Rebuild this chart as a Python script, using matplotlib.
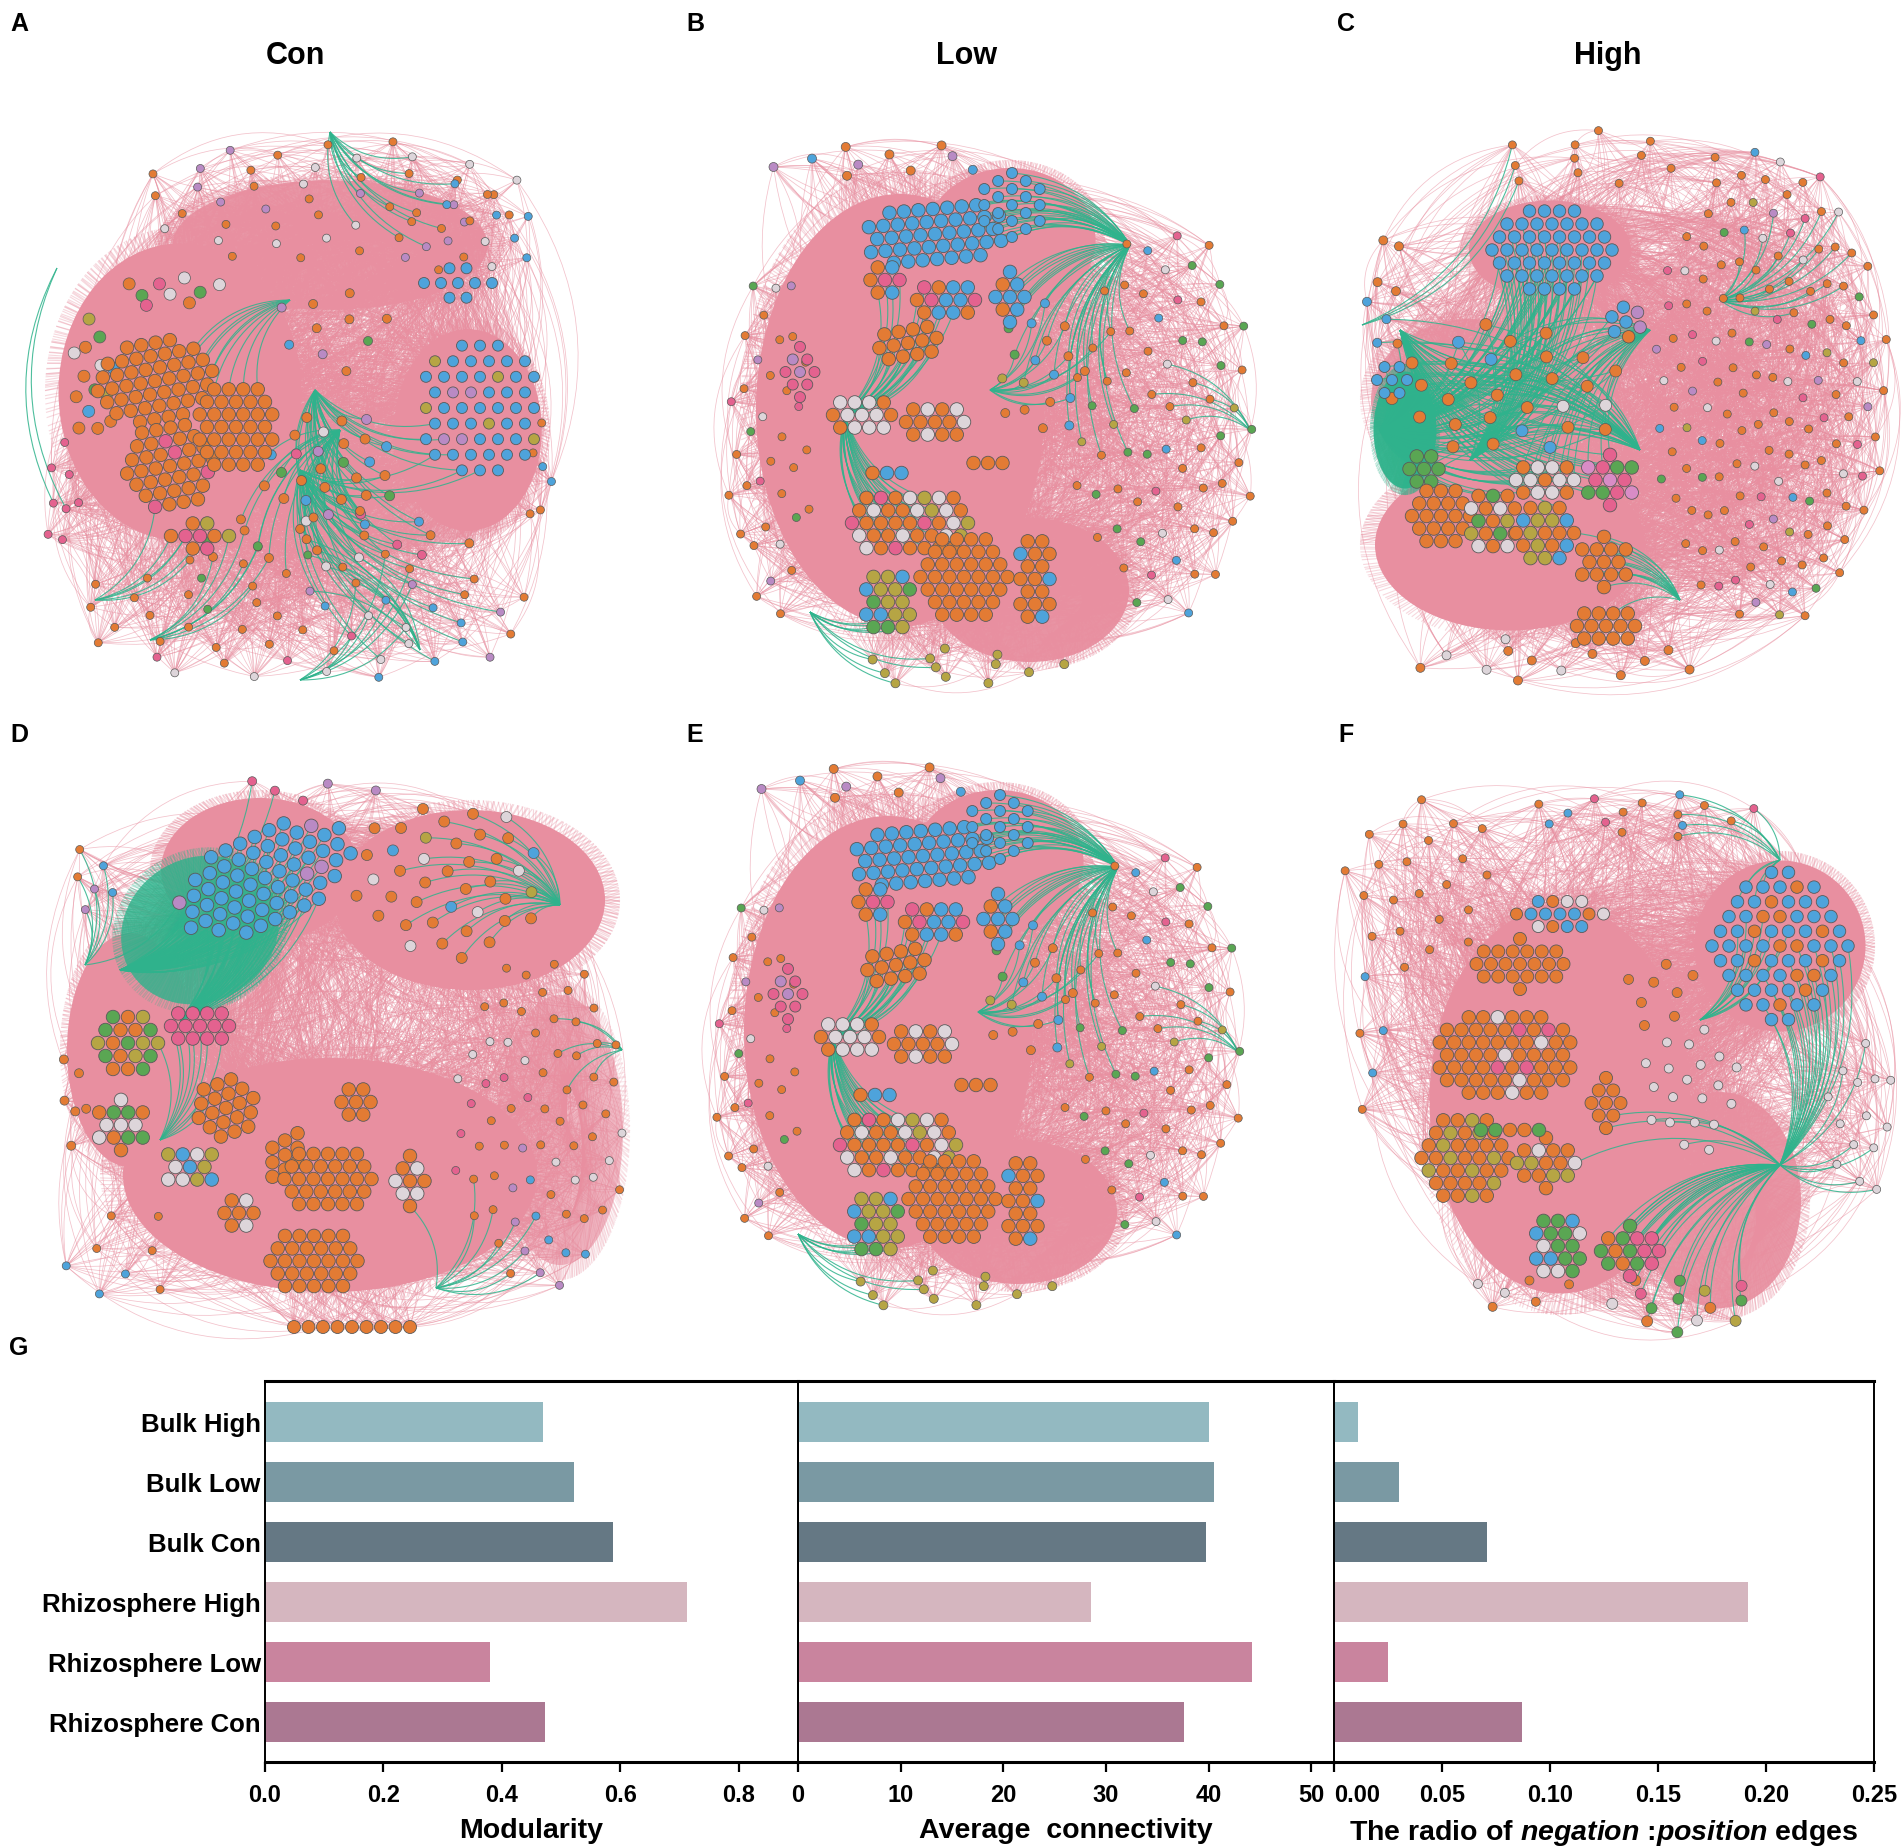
import numpy as np
import matplotlib
matplotlib.use("Agg")
import matplotlib.pyplot as plt
from matplotlib.collections import LineCollection
from matplotlib.patches import Ellipse

plt.rcParams['font.family'] = ['Liberation Sans', 'DejaVu Sans']
plt.rcParams['font.weight'] = 'bold'
plt.rcParams['mathtext.fontset'] = 'custom'
plt.rcParams['mathtext.rm'] = 'Liberation Sans:bold'
plt.rcParams['mathtext.it'] = 'Liberation Sans:italic:bold'

# ---------------- panel G data ----------------
groups = ['Bulk High', 'Bulk Low', 'Bulk Con',
          'Rhizosphere High', 'Rhizosphere Low', 'Rhizosphere Con']
modularity = [0.469, 0.521, 0.588, 0.712, 0.380, 0.472]
avg_connectivity = [40.0, 40.5, 39.7, 28.5, 44.2, 37.6]
neg_pos_ratio = [0.011, 0.030, 0.071, 0.1915, 0.025, 0.087]
bar_colors = ['#93b9c1', '#7a99a3', '#657884', '#d5b6bf', '#c9849e', '#ab7892']

# ---------------- network panels (pixel layout of modules) ----------------
node_colors = {'o': '#e37b34', 'b': '#4ea3db', 'g': '#5aa653', 'w': '#ddd5da',
               'p': '#e4628f', 'l': '#b98ac4', 'm': '#d98cc6', 'y': '#b6a544'}
pink = '#e88fa0'
green = '#2fb38c'

# fills: (cx, cy, rx, ry, angle, alpha)
# modules: (cx, cy, rx, ry, angle, spacing, size, colours)
# scattered: (cx, cy, rx, ry, count, size, colours)
# green bundles: (hub x, hub y, target x, target y, radius, count)
a_fills = [(180, 392, 135, 165, 0, 1.0), (468, 430, 82, 112, 0, 1.0),
           (330, 245, 175, 72, 0, 0.9), (390, 505, 120, 48, 0, 0.55)]
a_green_fills = []
a_modules = [(155, 381, 58, 44, -10, 14.5, 13.5, 'o'),
             (170, 466, 52, 42, -10, 14.5, 13.5, 'oooooooowooopoooogooy'),
             (236, 427, 40, 50, 0, 14.5, 13.5, 'ooooooooybooo'),
             (200, 536, 30, 14, 0, 14.5, 13.5, 'oyopy'),
             (480, 408, 60, 72, 0, 18, 11, 'bbbbbbobbbbwbbbbbly'),
             (458, 283, 36, 18, 0, 17, 11, 'bbbbbbo')]
a_scattered = [(92, 380, 25, 65, 14, 12, 'ogbowyo'),
               (172, 290, 55, 18, 9, 12, 'wwgogop'),
               (330, 200, 200, 65, 45, 8, 'oooboolowbooogoowoob'),
               (470, 230, 70, 50, 15, 8, 'bobolowb'),
               (330, 330, 60, 50, 10, 9, 'oobgol'),
               (330, 470, 70, 60, 28, 10, 'oooblpgowobo'),
               (300, 615, 240, 70, 55, 8, 'oooopwboogooowbl'),
               (330, 540, 150, 30, 20, 9, 'oogowpob'),
               (62, 500, 20, 60, 8, 8, 'opbow'),
               (540, 480, 15, 60, 6, 8, 'obo')]
a_green = [(300, 470, 420, 560, 150, 40), (315, 390, 380, 480, 120, 35),
           (330, 132, 400, 200, 80, 15), (150, 640, 250, 560, 100, 8),
           (420, 650, 330, 560, 100, 8), (300, 680, 380, 600, 80, 8),
           (57, 268, 62, 500, 30, 2), (290, 300, 230, 350, 60, 10),
           (340, 430, 300, 520, 90, 30), (95, 600, 160, 540, 60, 6)]

b_fills = [(900, 410, 160, 240, 0, 1.0), (1010, 240, 95, 80, 0, 1.0),
           (1030, 590, 110, 80, 0, 0.95)]
b_green_fills = []
b_modules = [(935, 234, 72, 32, -5, 14.5, 13.5, 'bbbbbbbbwbbbbbbblbbbb'),
             (1012, 205, 38, 38, 30, 16, 11, 'bbbbbbobbb'),
             (885, 280, 22, 20, 0, 14.5, 13.5, 'obopb'),
             (946, 300, 33, 22, 0, 14.5, 13.5, 'pobbobbp'),
             (1010, 297, 18, 32, 0, 14.5, 13.5, 'bbobo'),
             (908, 343, 42, 24, -10, 14.5, 13.5, 'oooooooow'),
             (800, 372, 22, 32, 0, 14.5, 11, 'plpwlppo'),
             (862, 415, 33, 20, 0, 14.5, 13.5, 'wogowbloow'),
             (935, 422, 40, 17, 0, 14.5, 13.5, 'oooowoo'),
             (988, 463, 28, 12, 0, 14.5, 13.5, 'o'),
             (887, 473, 24, 12, 0, 14.5, 13.5, 'obp'),
             (910, 523, 64, 36, 0, 14.5, 13.5, 'oowopwoooyopwoogoow'),
             (964, 577, 50, 50, 0, 14.5, 13.5, 'oooooooooyooooooooooow'),
             (1035, 579, 20, 48, 0, 14.5, 13.5, 'oooboog'),
             (888, 602, 28, 32, 0, 14.5, 13.5, 'ypbwyogp')]
b_scattered = [(770, 440, 45, 180, 35, 8, 'oooopowgoolo'),
               (1165, 420, 95, 200, 70, 8, 'oogogoboowgopoogy'),
               (880, 162, 120, 20, 10, 9, 'bloo'),
               (960, 668, 120, 20, 12, 9, 'oyopw'),
               (1040, 370, 50, 70, 18, 9, 'obgyoobo')]
b_green = [(1130, 245, 1010, 210, 70, 30), (1130, 245, 1060, 330, 80, 25),
           (1130, 245, 1100, 420, 60, 10), (845, 415, 900, 340, 70, 25),
           (845, 415, 900, 520, 70, 25), (990, 390, 1060, 350, 80, 15),
           (810, 612, 900, 650, 60, 10), (1250, 430, 1180, 400, 60, 6)]

c_fills = [(1550, 250, 90, 55, 0, 1.0), (1510, 545, 150, 95, 0, 1.0),
           (1470, 400, 110, 90, 0, 0.8)]
c_green_fills = [(1405, 430, 35, 65, 0, 0.95)]
c_modules = [(1552, 250, 70, 42, 0, 15, 12.5, 'bbbbbbbbbbbbobbblbbbbb'),
             (1626, 322, 26, 22, 20, 15, 12.5, 'bbbblbob'),
             (1392, 380, 22, 14, 0, 15, 11, 'bbb'),
             (1424, 469, 26, 20, 0, 14.5, 13.5, 'gggggoggg'),
             (1610, 480, 25, 28, 0, 14.5, 13.5, 'ppwpmyppgp'),
             (1441, 516, 30, 36, 0, 14.5, 13.5, 'o'),
             (1493, 521, 24, 38, 0, 14.5, 13.5, 'oooogoowoyo'),
             (1545, 480, 32, 22, 0, 14.5, 13.5, 'oooywo'),
             (1545, 533, 32, 33, 0, 14.5, 13.5, 'ooyoyobooyoo'),
             (1604, 562, 27, 28, 0, 14.5, 13.5, 'o'),
             (1606, 626, 36, 16, 0, 14.5, 13.5, 'o')]
c_scattered = [(1510, 390, 120, 70, 30, 12, 'oooooboooowob'),
               (1770, 390, 120, 240, 150, 8, 'ooooobolopwoogoywop'),
               (1600, 160, 130, 30, 12, 8, 'oowob'),
               (1385, 300, 20, 80, 8, 9, 'obo'),
               (1560, 660, 150, 25, 14, 9, 'oow')]
c_green = [(1380, 430, 1500, 380, 120, 60), (1380, 430, 1560, 300, 90, 30),
           (1650, 330, 1560, 400, 100, 30), (1720, 300, 1800, 260, 90, 20),
           (1680, 600, 1620, 560, 60, 15), (1362, 325, 1500, 150, 60, 3),
           (1400, 330, 1560, 420, 120, 40), (1470, 460, 1520, 300, 100, 40),
           (1640, 450, 1460, 380, 110, 35)]

d_fills = [(470, 900, 150, 100, 0, 1.0), (330, 1175, 230, 130, 0, 1.0),
           (130, 1050, 70, 130, 0, 1.0), (560, 1130, 70, 150, 0, 0.6),
           (260, 870, 110, 80, 0, 1.0)]
d_green_fills = [(200, 930, 90, 80, -30, 0.8)]
d_modules = [(265, 878, 95, 48, -25, 16, 13.5, 'bbbbbbbbbbbbbblbbbbbbbbgbbbbbobb'),
             (128, 1043, 36, 38, 0, 15, 13.5, 'ggggoggbggyg'),
             (200, 1026, 35, 21, 0, 14.5, 13.5, 'ppyppwopo'),
             (121, 1125, 25, 28, 0, 14.5, 13.5, 'wpgpoywo'),
             (226, 1108, 38, 34, -20, 14.5, 13.5, 'ooooooopoboo'),
             (190, 1167, 28, 24, 0, 14.5, 13.5, 'ywygbyowo'),
             (285, 1155, 18, 40, 30, 14.5, 13.5, 'ooopoo'),
             (328, 1179, 48, 36, 0, 14.5, 13.5, 'o'),
             (239, 1213, 21, 25, 0, 14.5, 13.5, 'ooyow'),
             (314, 1261, 50, 35, 0, 14.5, 13.5, 'oooooooyoooooo'),
             (356, 1102, 23, 21, 0, 14.5, 13.5, 'oow'),
             (410, 1181, 20, 34, 0, 14.5, 13.5, 'oowo'),
             (352, 1327, 72, 8, 0, 14.5, 13, 'o')]
d_scattered = [(450, 880, 100, 80, 40, 11, 'oooowoobooyowo'),
               (540, 1120, 90, 170, 70, 8, 'ooooowobloopw'),
               (72, 1100, 15, 60, 6, 9, 'o'),
               (300, 790, 80, 15, 5, 9, 'lpp'),
               (90, 880, 25, 40, 6, 8, 'olb'),
               (120, 1260, 60, 60, 8, 8, 'obo')]
d_green = [(120, 970, 250, 860, 100, 60), (180, 1020, 260, 900, 90, 40),
           (560, 905, 470, 880, 90, 30), (85, 965, 110, 880, 50, 8),
           (436, 1288, 470, 1250, 60, 10), (622, 1050, 580, 1050, 60, 8),
           (160, 1140, 190, 1060, 60, 10)]

f_fills = [(1560, 1100, 145, 215, 0, 1.0), (1780, 946, 95, 95, 0, 1.0),
           (1720, 1200, 90, 120, 0, 0.9)]
f_green_fills = []
f_modules = [(1780, 946, 72, 78, 0, 17, 12.5, 'bbbbbbobbbbbbbbob'),
             (1505, 1055, 70, 46, 0, 14.5, 13.5, 'oooooooooowoooooooopoooooob'),
             (1465, 1158, 48, 44, 0, 14.5, 13.5, 'oooooyooooyoooy'),
             (1546, 1163, 29, 28, 0, 14.5, 13.5, 'ooowoyo'),
             (1510, 1130, 30, 12, 0, 14.5, 13.5, 'gwow'),
             (1520, 964, 53, 26, 0, 14.5, 13, 'oopoooppoo'),
             (1560, 914, 50, 16, 0, 14.5, 12, 'blwoopbo'),
             (1606, 1103, 20, 26, 0, 14.5, 13, 'oywpoo'),
             (1558, 1246, 28, 33, 0, 14.5, 13.5, 'gobpgywo'),
             (1630, 1251, 29, 28, 0, 14.5, 13.5, 'gogpo')]
f_scattered = [(1685, 1304, 84, 30, 14, 11, 'ogpwyg'),
               (1660, 990, 40, 40, 8, 10, 'lowpo'),
               (1420, 880, 80, 90, 22, 8, 'o'),
               (1640, 815, 120, 25, 15, 8, 'oobbop'),
               (1860, 1120, 35, 90, 14, 8, 'owbop'),
               (1370, 1050, 20, 80, 5, 8, 'ob'),
               (1690, 1090, 50, 70, 20, 9, 'owoop'),
               (1520, 1290, 60, 20, 6, 9, 'owo')]
f_green = [(1780, 1165, 1830, 1010, 60, 25), (1780, 1165, 1700, 1270, 80, 25),
           (1780, 1165, 1640, 1180, 70, 12), (1780, 1165, 1860, 1160, 40, 5),
           (1780, 860, 1720, 830, 80, 12), (1700, 1020, 1760, 940, 70, 12)]

panel_titles = ['Con', 'Low', 'High']


def module_nodes(cx, cy, rx, ry, ang, sp, size, code):
    t = np.deg2rad(ang)
    pts = []
    nr = int(max(rx, ry) / (sp * 0.866)) + 2
    nc = int(max(rx, ry) / sp) + 2
    for r in range(-nr, nr + 1):
        for c in range(-nc, nc + 1):
            x = c * sp + (sp / 2 if r % 2 else 0)
            y = r * sp * 0.866
            if (x / rx) ** 2 + (y / ry) ** 2 <= 1.0:
                pts.append((cx + x * np.cos(t) - y * np.sin(t),
                            cy + x * np.sin(t) + y * np.cos(t)))
    if not pts:
        pts = [(cx, cy)]
    cols = [node_colors[code[(k * k + 3 * k) % len(code)]] for k in range(len(pts))]
    return pts, cols, [size] * len(pts)


def scattered_nodes(cx, cy, rx, ry, n, size, code):
    k = np.arange(n)
    r = np.sqrt((k + 0.5) / n)
    th = k * 2.39996 + cx * 0.01
    pts = list(zip(cx + rx * r * np.cos(th), cy + ry * r * np.sin(th)))
    cols = [node_colors[code[(i * 5 + 1) % len(code)]] for i in range(n)]
    return pts, cols, [size] * n


def bezier(p0, p1, bend):
    t = np.linspace(0, 1, 18)[None, :, None]
    d = p1 - p0
    c = (p0 + p1) / 2 + bend * np.stack([-d[:, 1], d[:, 0]], axis=1)
    return ((1 - t) ** 2 * p0[:, None, :] + 2 * (1 - t) * t * c[:, None, :]
            + t ** 2 * p1[:, None, :])


def blob(ax, cx, cy, rx, ry, ang, al, color, z):
    # a dense bundle of edges: solid core plus curved chords for the ragged rim
    ax.add_patch(Ellipse((cx, cy), 1.8 * rx, 1.8 * ry, angle=ang,
                         facecolor=color, edgecolor='none', alpha=al, zorder=z))
    t = np.deg2rad(ang)
    k = np.arange(220)
    t1 = k * 2.39996
    t2 = t1 + np.pi * (0.55 + 0.45 * ((k * 0.618) % 1))

    def on(th):
        x, y = rx * np.cos(th), ry * np.sin(th)
        return np.stack([cx + x * np.cos(t) - y * np.sin(t),
                         cy + x * np.sin(t) + y * np.cos(t)], axis=1)
    segs = bezier(on(t1), on(t2), 0.14)
    ax.add_collection(LineCollection(segs, colors=color, linewidths=0.8,
                                     alpha=0.35 * al, zorder=z))


def draw_network(ax, fills, green_fills, modules, scattered, bundles, dx=0, dy=0):
    for cx, cy, rx, ry, ang, al in fills:
        blob(ax, cx + dx, cy + dy, rx, ry, ang, al, pink, 1)
    pts, cols, sizes = [], [], []
    for sc in scattered:
        p, c, s = scattered_nodes(*sc)
        pts += p; cols += c; sizes += s
    n_small = len(pts)
    for m in modules:
        p, c, s = module_nodes(*m)
        pts += p; cols += c; sizes += s
    pts = np.array(pts) + np.array([dx, dy])
    n = len(pts)

    # pink (positive) edges
    k = np.arange(7000)
    i = k % n
    j = (i * 61 + (k // n) * 97 + 11) % n
    d = np.hypot(*(pts[i] - pts[j]).T)
    keep = (d > 15) & (d < 320)
    segs = bezier(pts[i[keep]], pts[j[keep]], 0.28)
    ax.add_collection(LineCollection(segs, colors=pink, linewidths=0.55,
                                     alpha=0.55, zorder=2))

    for cx, cy, rx, ry, ang, al in green_fills:
        blob(ax, cx + dx, cy + dy, rx, ry, ang, al, green, 3)
    # green (negative) edges
    gsegs = []
    for hx, hy, tx, ty, r, cnt in bundles:
        hub = np.array([hx + dx, hy + dy])
        dist = np.hypot(*(pts - np.array([tx + dx, ty + dy])).T)
        idx = np.argsort(dist)[:cnt]
        idx = idx[dist[idx] < r * 1.6]
        if len(idx) == 0:
            continue
        p0 = np.repeat(hub[None, :], len(idx), axis=0)
        gsegs.append(bezier(p0, pts[idx], 0.25))
    if gsegs:
        ax.add_collection(LineCollection(np.concatenate(gsegs), colors=green,
                                         linewidths=0.8, alpha=0.85, zorder=4))

    sizes = np.array(sizes)
    ax.scatter(pts[:n_small, 0], pts[:n_small, 1], s=(0.72 * sizes[:n_small]) ** 2,
               c=cols[:n_small], edgecolors='#5a5a5a', linewidths=0.5, zorder=5)
    ax.scatter(pts[n_small:, 0], pts[n_small:, 1], s=(0.72 * sizes[n_small:]) ** 2,
               c=cols[n_small:], edgecolors='#5a5a5a', linewidths=0.6, zorder=6)


fig = plt.figure(figsize=(19.04, 18.46), dpi=100)
net = fig.add_axes([0, 0, 1, 1])
net.set_xlim(0, 1904)
net.set_ylim(1846, 0)
net.axis('off')

draw_network(net, a_fills, a_green_fills, a_modules, a_scattered, a_green)
draw_network(net, b_fills, b_green_fills, b_modules, b_scattered, b_green)
draw_network(net, c_fills, c_green_fills, c_modules, c_scattered, c_green)
draw_network(net, d_fills, d_green_fills, d_modules, d_scattered, d_green)
draw_network(net, b_fills, b_green_fills, b_modules, b_scattered, b_green, dx=-12, dy=622)
draw_network(net, f_fills, f_green_fills, f_modules, f_scattered, f_green)

for x, t in zip([295, 967, 1608], panel_titles):
    net.text(x, 56, t, fontsize=22, fontweight='bold', ha='center', va='center')
for (x, y), t in zip([(19, 24), (695, 24), (1346, 24), (19, 735), (695, 735),
                      (1346, 735), (19, 1348)], 'ABCDEFG'):
    net.text(x, y, t, fontsize=18, fontweight='bold', ha='center', va='center')

# ---------------- panel G bars ----------------
W, H = 1904.0, 1846.0
edges_x = [265, 798, 1334, 1874]
bottom, top = 1762, 1381
ypos = np.arange(len(groups))[::-1]
series = [modularity, avg_connectivity, neg_pos_ratio]
xlims = [(0, 0.9), (0, 52.2), (0, 0.25)]
xticks = [[0.0, 0.2, 0.4, 0.6, 0.8], [0, 10, 20, 30, 40, 50],
          [0.0, 0.05, 0.10, 0.15, 0.20, 0.25]]
xfmt = ['{:.1f}', '{:d}', '{:.2f}']
xlabels = ['Modularity', 'Average  connectivity',
           r'The radio of $negation$ :$position$ edges']

for k in range(3):
    ax = fig.add_axes([edges_x[k] / W, 1 - bottom / H,
                       (edges_x[k + 1] - edges_x[k]) / W, (bottom - top) / H])
    ax.barh(ypos, series[k], height=0.667, color=bar_colors)
    ax.set_xlim(*xlims[k])
    ax.set_ylim(-0.667, 5.69)
    ax.set_xticks(xticks[k])
    ax.set_xticklabels([xfmt[k].format(v) for v in xticks[k]], fontsize=17,
                       fontweight='bold')
    ax.tick_params(axis='x', length=7, width=1.6, pad=9)
    if k == 2:
        ax.get_xticklabels()[0].set_horizontalalignment('left')
    if k == 0:
        ax.set_yticks(ypos)
        ax.set_yticklabels(groups, fontsize=18.5, fontweight='bold')
        ax.tick_params(axis='y', length=0, pad=3)
    else:
        ax.set_yticks([])
    ax.set_xlabel(xlabels[k], fontsize=20.5, fontweight='bold', labelpad=8)
    for s in ax.spines.values():
        s.set_linewidth(1.4)
    ax.spines['top'].set_linewidth(2.2)
    ax.spines['bottom'].set_linewidth(2.2)
    ax.set_facecolor('none')

fig.savefig('out.png', dpi=100, facecolor='white')
